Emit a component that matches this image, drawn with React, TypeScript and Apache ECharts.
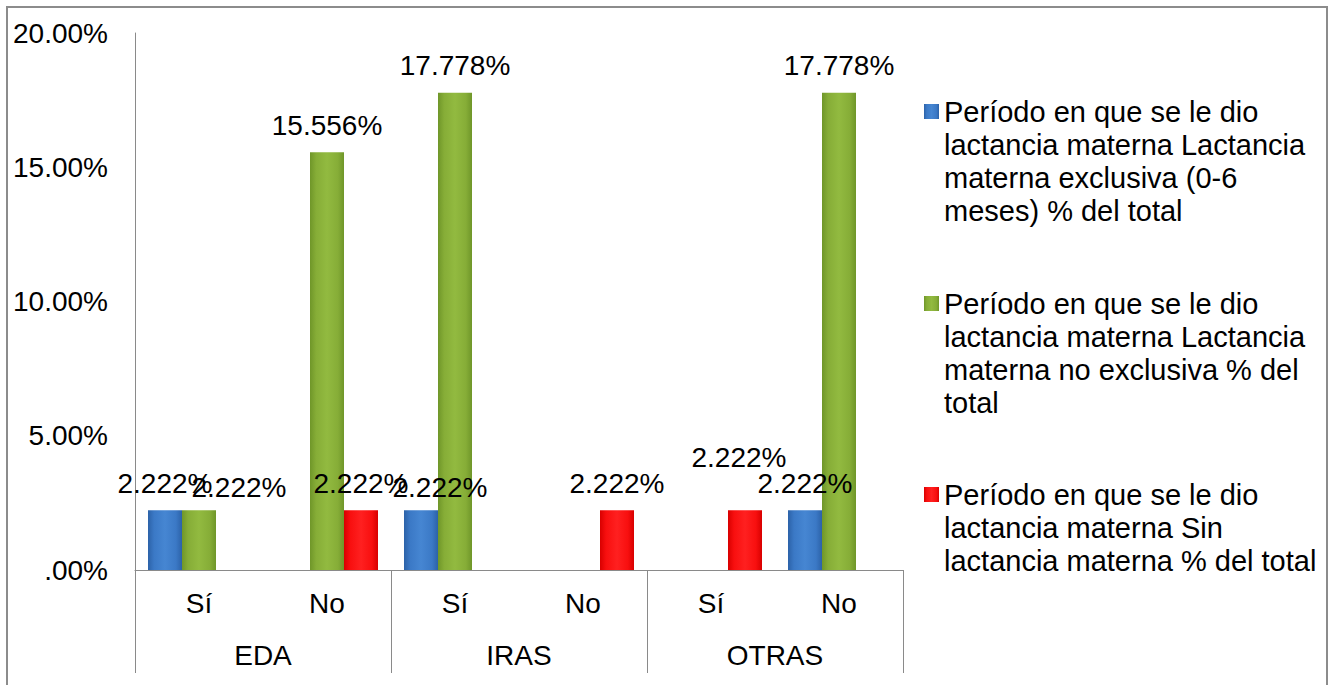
import React, { useEffect, useRef } from 'react';
import * as echarts from 'echarts';

const GROUPS = ['EDA', 'IRAS', 'OTRAS'];
const SUBCATS = ['Sí', 'No', 'Sí', 'No', 'Sí', 'No'];

const SERIES_NAMES = [
  'Período en que se le dio lactancia materna Lactancia materna exclusiva (0-6 meses) % del total',
  'Período en que se le dio lactancia materna Lactancia materna no exclusiva % del total',
  'Período en que se le dio lactancia materna Sin lactancia materna % del total',
];

const LEGEND_LINES = [
  ['Período en que se le dio', 'lactancia materna Lactancia', 'materna exclusiva (0-6', 'meses) % del total'],
  ['Período en que se le dio', 'lactancia materna Lactancia', 'materna no exclusiva % del', 'total'],
  ['Período en que se le dio', 'lactancia materna Sin', 'lactancia materna % del total'],
];

const EXCLUSIVA = [2.222, 0, 2.222, 0, 0, 2.222];
const NO_EXCLUSIVA = [2.222, 15.556, 17.778, 0, 0, 17.778];
const SIN_LACTANCIA = [0, 2.222, 0, 2.222, 2.222, 0];

const Y_MIN = 0;
const Y_MAX = 20;
const Y_STEP = 5;

// styling (not data)
const FONT = "'Liberation Sans', Arial, sans-serif";
const LABEL_NUDGES: Record<string, number[]> = {
  '1-0': [40, 4],
  '0-2': [19, 4],
  '2-4': [-6, -26],
};
const LEGEND_ICON_TOPS = [104, 296, 487];
const LINE_H = 33;

const grad = (edge: string, mid: string, center: string) => ({
  type: 'linear', x: 0, y: 0, x2: 1, y2: 0,
  colorStops: [
    { offset: 0, color: edge },
    { offset: 0.18, color: mid },
    { offset: 0.5, color: center },
    { offset: 0.82, color: mid },
    { offset: 1, color: edge },
  ],
});

const COLORS = [
  grad('#2c62a8', '#3b79c6', '#4686d2'),
  grad('#6f9629', '#86ad37', '#92ba40'),
  grad('#d80000', '#f80f0f', '#ff2020'),
];

const VALUES = [EXCLUSIVA, NO_EXCLUSIVA, SIN_LACTANCIA];

export default function App() {
  const ref = useRef<HTMLDivElement>(null);
  useEffect(() => {
    const chart = echarts.init(ref.current!, null, { renderer: 'svg' });
    const option: any = {
      animation: false,
      backgroundColor: '#ffffff',
      textStyle: { fontFamily: FONT },
      grid: { left: 135, right: 439, top: 33, bottom: 115, outerBoundsMode: 'none' },
      graphic: [
        {
          type: 'rect', silent: true, z: -10,
          shape: { x: 7, y: 7, width: 1320, height: 740 },
          style: { fill: 'none', stroke: '#8c8c8c', lineWidth: 2 },
        },
      ],
      legend: SERIES_NAMES.map((name, i) => {
        const n = LEGEND_LINES[i].length;
        // leading blank lines keep the swatch level with the first text line
        const lead = new Array(n - 1).fill('');
        return {
          orient: 'vertical',
          left: 924,
          top: LEGEND_ICON_TOPS[i] - (LINE_H * n - 24),
          padding: 0,
          itemWidth: 15,
          itemHeight: 15,
          icon: 'rect',
          selectedMode: false,
          data: [{ name }],
          formatter: () => lead.concat(LEGEND_LINES[i]).join('\n'),
          textStyle: {
            fontSize: 29, lineHeight: LINE_H, color: '#000', fontFamily: FONT,
          },
        };
      }),
      xAxis: [
        {
          type: 'category',
          data: SUBCATS,
          position: 'bottom',
          axisLine: { show: true, lineStyle: { color: '#8a8a8a', width: 1 } },
          axisTick: { show: false },
          axisLabel: { interval: 0, margin: 19, fontSize: 28, color: '#000', fontFamily: FONT },
          splitLine: { show: false },
        },
        {
          type: 'category',
          data: GROUPS,
          position: 'bottom',
          axisLine: { show: false },
          axisTick: { show: true, interval: 0, alignWithLabel: false, length: 103, lineStyle: { color: '#8a8a8a', width: 1 } },
          axisLabel: { interval: 0, margin: 71, fontSize: 28, color: '#000', fontFamily: FONT },
          splitLine: { show: false },
        },
      ],
      yAxis: {
        type: 'value',
        min: Y_MIN,
        max: Y_MAX,
        interval: Y_STEP,
        axisLine: { show: true, lineStyle: { color: '#8a8a8a', width: 1 } },
        axisTick: { show: false },
        splitLine: { show: false },
        axisLabel: {
          margin: 27, fontSize: 28, color: '#000', fontFamily: FONT,
          formatter: (v: number) => (v === 0 ? '.00%' : v.toFixed(2) + '%'),
        },
      },
      series: SERIES_NAMES.map((name, i) => ({
        name,
        type: 'bar',
        xAxisIndex: 0,
        yAxisIndex: 0,
        barWidth: 34,
        barGap: '0%',
        itemStyle: { color: COLORS[i] },
        label: {
          show: true,
          position: 'top',
          distance: 13,
          fontSize: 28,
          color: '#000',
          fontFamily: FONT,
          formatter: (p: any) => {
            const v = typeof p.value === 'number' ? p.value : Number(p.value);
            return v > 0 ? v.toFixed(3) + '%' : '';
          },
        },
        data: VALUES[i].map((v, j) => {
          const nudge = LABEL_NUDGES[`${i}-${j}`];
          return nudge ? { value: v, label: { offset: nudge } } : v;
        }),
      })),
    };
    chart.setOption(option);
    return () => chart.dispose();
  }, []);
  return (
    <div
      ref={ref}
      style={{ position: 'fixed', left: 0, top: 0, width: 1342, height: 685, background: '#fff' }}
    />
  );
}
